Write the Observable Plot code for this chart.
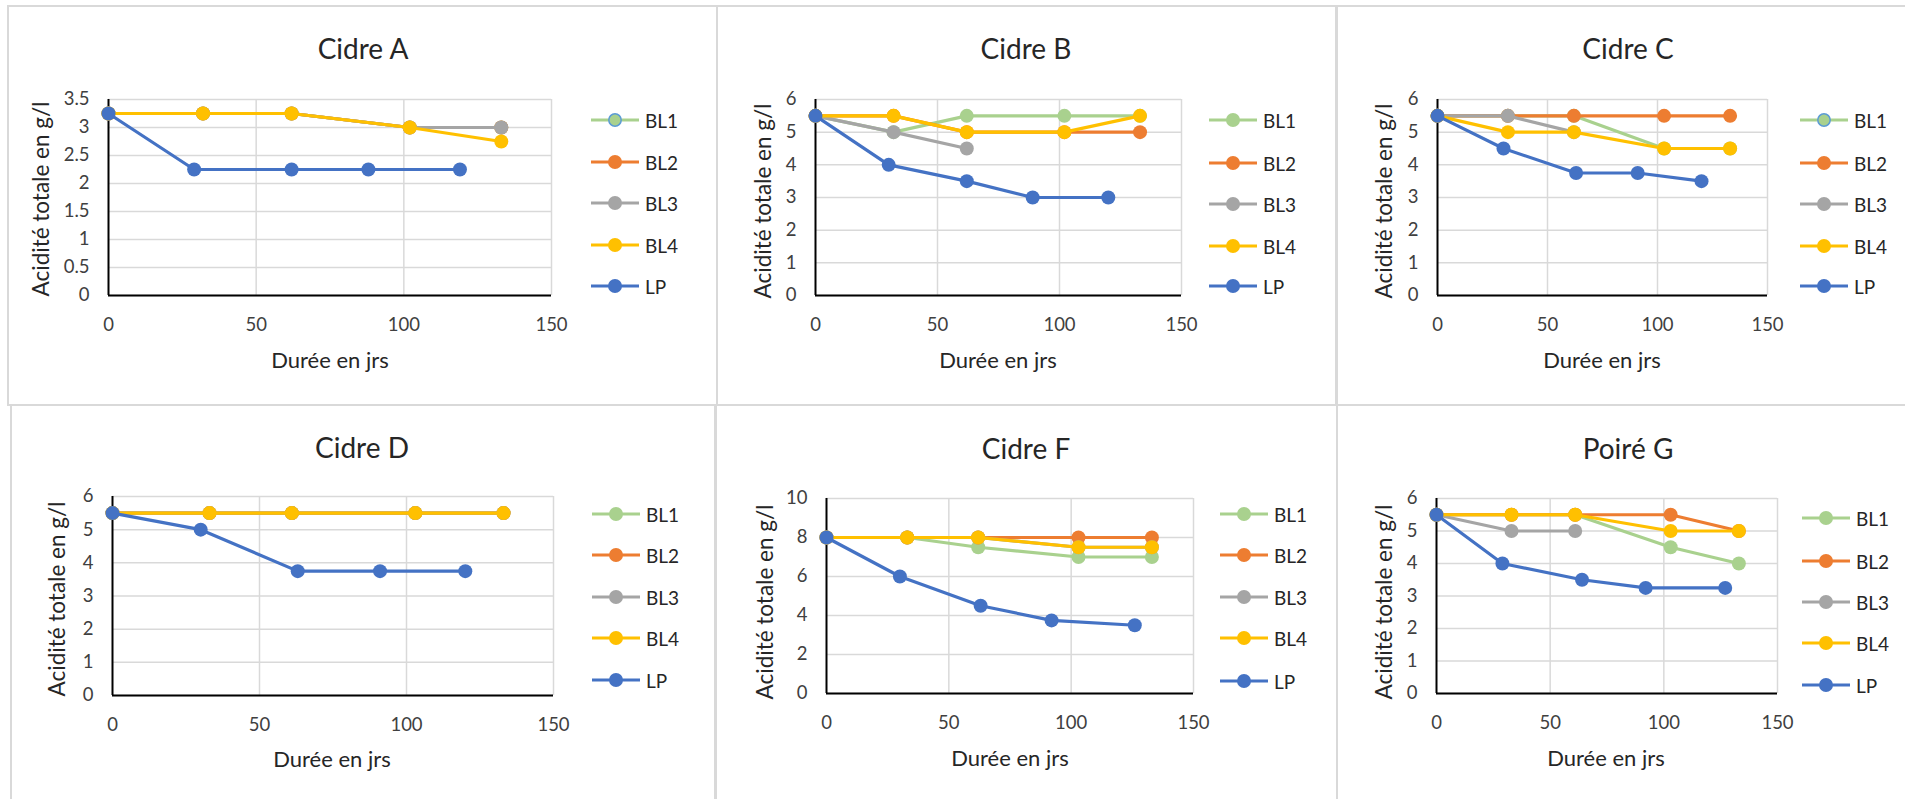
<!DOCTYPE html>
<html>
<head>
<meta charset="utf-8">
<script src="https://cdn.jsdelivr.net/npm/d3@7"></script>
<script src="https://cdn.jsdelivr.net/npm/@observablehq/plot@0.6"></script>
<style>
  html, body { margin: 0; padding: 0; background: #fff; }
  #root { position: relative; width: 1905px; height: 799px; overflow: hidden; background: #fff; font-family: Lato, "Open Sans", sans-serif; }
  .frame { position: absolute; border: 2px solid #d9d9d9; box-sizing: border-box; }
  .txt { position: absolute; white-space: nowrap; line-height: 1; color: #262626; }
  .title { font-size: 28px; transform: translate(-50%, -50%); }
  .ylab { font-size: 22.5px; transform: translate(-50%, -50%) rotate(-90deg); }
  .xlab { font-size: 22px; transform: translate(-50%, -50%); }
  .plotbox { position: absolute; }
  .legtxt { font-size: 19px; transform: translate(0, -50%); color: #262626; }
</style>
</head>
<body>
<div id="root"></div>
<script>
// ---------- shared labels ----------
const seriesNames = ["BL1", "BL2", "BL3", "BL4", "LP"];
const seriesColors = ["#A9D18E", "#ED7D31", "#A5A5A5", "#FFC000", "#4472C4"];
const panelTitles = ["Cidre A", "Cidre B", "Cidre C", "Cidre D", "Cidre F", "Poiré G"];
const xLabel = "Durée en jrs";
const yLabel = "Acidité totale en g/l";
const xTicks = [0, 50, 100, 150];
const yTicksA = [0, 0.5, 1, 1.5, 2, 2.5, 3, 3.5];
const yTicks6 = [0, 1, 2, 3, 4, 5, 6];
const yTicksF = [0, 2, 4, 6, 8, 10];

// ---------- Cidre A ----------
const daysA_BL = [0, 32, 62, 102, 133];
const daysA_LP = [0, 29, 62, 88, 119];
const acidA_BL1 = [3.25, 3.25, 3.25, 3, 3];
const acidA_BL2 = [3.25, 3.25, 3.25, 3, 3];
const acidA_BL3 = [3.25, 3.25, 3.25, 3, 3];
const acidA_BL4 = [3.25, 3.25, 3.25, 3, 2.75];
const acidA_LP  = [3.25, 2.25, 2.25, 2.25, 2.25];

// ---------- Cidre B ----------
const daysB_BL  = [0, 32, 62, 102, 133];
const daysB_BL3 = [0, 32, 62];
const daysB_LP  = [0, 30, 62, 89, 120];
const acidB_BL1 = [5.5, 5, 5.5, 5.5, 5.5];
const acidB_BL2 = [5.5, 5.5, 5, 5, 5];
const acidB_BL3 = [5.5, 5, 4.5];
const acidB_BL4 = [5.5, 5.5, 5, 5, 5.5];
const acidB_LP  = [5.5, 4, 3.5, 3, 3];

// ---------- Cidre C ----------
const daysC_BL  = [0, 32, 62, 103, 133];
const daysC_BL3 = [0, 32, 62];
const daysC_LP  = [0, 30, 63, 91, 120];
const acidC_BL1 = [5.5, 5.5, 5.5, 4.5, 4.5];
const acidC_BL2 = [5.5, 5.5, 5.5, 5.5, 5.5];
const acidC_BL3 = [5.5, 5.5, 5];
const acidC_BL4 = [5.5, 5, 5, 4.5, 4.5];
const acidC_LP  = [5.5, 4.5, 3.75, 3.75, 3.5];

// ---------- Cidre D ----------
const daysD_BL  = [0, 33, 61, 103, 133];
const daysD_LP  = [0, 30, 63, 91, 120];
const acidD_BL1 = [5.5, 5.5, 5.5, 5.5, 5.5];
const acidD_BL2 = [5.5, 5.5, 5.5, 5.5, 5.5];
const acidD_BL3 = [5.5, 5.5, 5.5, 5.5, 5.5];
const acidD_BL4 = [5.5, 5.5, 5.5, 5.5, 5.5];
const acidD_LP  = [5.5, 5, 3.75, 3.75, 3.75];

// ---------- Cidre F ----------
const daysF_BL  = [0, 33, 62, 103, 133];
const daysF_LP  = [0, 30, 63, 92, 126];
const acidF_BL1 = [8, 8, 7.5, 7, 7];
const acidF_BL2 = [8, 8, 8, 8, 8];
const acidF_BL3 = [8, 8, 8, 7.5, 7.5];
const acidF_BL4 = [8, 8, 8, 7.5, 7.5];
const acidF_LP  = [8, 6, 4.5, 3.75, 3.5];

// ---------- Poiré G ----------
const daysG_BL  = [0, 33, 61, 103, 133];
const daysG_BL3 = [0, 33, 61];
const daysG_LP  = [0, 29, 64, 92, 127];
const acidG_BL1 = [5.5, 5.5, 5.5, 4.5, 4];
const acidG_BL2 = [5.5, 5.5, 5.5, 5.5, 5];
const acidG_BL3 = [5.5, 5, 5];
const acidG_BL4 = [5.5, 5.5, 5.5, 5, 5];
const acidG_LP  = [5.5, 4, 3.5, 3.25, 3.25];

// ---------- assemble series per panel ----------
const panelSeries = [
  [[daysA_BL, acidA_BL1], [daysA_BL, acidA_BL2], [daysA_BL, acidA_BL3], [daysA_BL, acidA_BL4], [daysA_LP, acidA_LP]],
  [[daysB_BL, acidB_BL1], [daysB_BL, acidB_BL2], [daysB_BL3, acidB_BL3], [daysB_BL, acidB_BL4], [daysB_LP, acidB_LP]],
  [[daysC_BL, acidC_BL1], [daysC_BL, acidC_BL2], [daysC_BL3, acidC_BL3], [daysC_BL, acidC_BL4], [daysC_LP, acidC_LP]],
  [[daysD_BL, acidD_BL1], [daysD_BL, acidD_BL2], [daysD_BL, acidD_BL3], [daysD_BL, acidD_BL4], [daysD_LP, acidD_LP]],
  [[daysF_BL, acidF_BL1], [daysF_BL, acidF_BL2], [daysF_BL, acidF_BL3], [daysF_BL, acidF_BL4], [daysF_LP, acidF_LP]],
  [[daysG_BL, acidG_BL1], [daysG_BL, acidG_BL2], [daysG_BL3, acidG_BL3], [daysG_BL, acidG_BL4], [daysG_LP, acidG_LP]]
];
const panelYMax = [3.5, 6, 6, 6, 10, 6];
const panelYTicks = [yTicksA, yTicks6, yTicks6, yTicks6, yTicksF, yTicks6];

// ---------- layout (pixels) ----------
const layouts = [
  {frame: [7, 5, 711, 401],    x0: 108,  x1: 551,  yT: 99,  yB: 295, title: [363, 48],  ylab: [41, 199],   xlab: [330, 360],  legX: 615,  legY: [120, 162, 203, 245, 286], bl1Ring: true},
  {frame: [716, 5, 622, 401],  x0: 815,  x1: 1181, yT: 99,  yB: 295, title: [1026, 48], ylab: [763, 201],  xlab: [998, 360],  legX: 1233, legY: [120, 163, 204, 246, 286]},
  {frame: [1335, 5, 620, 401], x0: 1437, x1: 1767, yT: 99,  yB: 295, title: [1628, 48], ylab: [1384, 201], xlab: [1602, 360], legX: 1824, legY: [120, 163, 204, 246, 286], bl1Ring: true},
  {frame: [10, 404, 706, 420], x0: 112,  x1: 553,  yT: 496, yB: 695, title: [362, 447], ylab: [57, 599],   xlab: [332, 759],  legX: 616,  legY: [514, 555, 597, 638, 680]},
  {frame: [715, 404, 623, 420],x0: 826,  x1: 1193, yT: 498, yB: 693, title: [1026, 448],ylab: [765, 602],  xlab: [1010, 758], legX: 1244, legY: [514, 555, 597, 638, 681]},
  {frame: [1336, 404, 620, 420],x0: 1436, x1: 1777, yT: 498, yB: 693, title: [1628, 448],ylab: [1384, 602], xlab: [1606, 758], legX: 1826, legY: [518, 561, 602, 643, 685]}
];

const root = document.getElementById("root");

function addText(cls, text, x, y) {
  const d = document.createElement("div");
  d.className = "txt " + cls;
  d.textContent = text;
  d.style.left = x + "px";
  d.style.top = y + "px";
  root.appendChild(d);
  return d;
}

layouts.forEach((L) => {
  const f = document.createElement("div");
  f.className = "frame";
  f.style.left = L.frame[0] + "px";
  f.style.top = L.frame[1] + "px";
  f.style.width = L.frame[2] + "px";
  f.style.height = L.frame[3] + "px";
  root.appendChild(f);
});

layouts.forEach((L, p) => {
  const ml = 90, mr = 14, mt = 14, mb = 50;
  const w = ml + (L.x1 - L.x0) + mr;
  const h = mt + (L.yB - L.yT) + mb;
  const yt = panelYTicks[p];
  const marks = [
    Plot.gridY(yt, {stroke: "#d9d9d9", strokeOpacity: 1, strokeWidth: 1.5}),
    Plot.gridX([50, 100, 150], {stroke: "#d9d9d9", strokeOpacity: 1, strokeWidth: 1.5}),
    Plot.axisY(yt, {tickSize: 0, tickPadding: 19, label: null, fontSize: 18.5, tickFormat: d => String(d)}),
    Plot.axisX(xTicks, {tickSize: 0, tickPadding: 22, label: null, fontSize: 18.5, tickFormat: d => String(d)}),
    Plot.ruleX([0], {stroke: "#000", strokeWidth: 2}),
    Plot.ruleY([0], {stroke: "#000", strokeWidth: 2})
  ];
  panelSeries[p].forEach(([days, vals], s) => {
    const data = days.map((d, i) => ({day: d, acid: vals[i]}));
    marks.push(Plot.line(data, {x: "day", y: "acid", stroke: seriesColors[s], strokeWidth: 3.2, strokeLinejoin: "round", strokeLinecap: "round"}));
    marks.push(Plot.dot(data, {x: "day", y: "acid", fill: seriesColors[s], r: 7}));
  });
  const chart = Plot.plot({
    width: w, height: h,
    marginLeft: ml, marginRight: mr, marginTop: mt, marginBottom: mb,
    x: {domain: [0, 150]},
    y: {domain: [0, panelYMax[p]]},
    style: {background: "transparent", fontFamily: "Lato, 'Open Sans', sans-serif", fontSize: "18.5px", color: "#404040", overflow: "visible"},
    marks
  });
  const box = document.createElement("div");
  box.className = "plotbox";
  box.style.left = (L.x0 - ml) + "px";
  box.style.top = (L.yT - mt) + "px";
  box.appendChild(chart);
  root.appendChild(box);

  addText("title", panelTitles[p], L.title[0], L.title[1]);
  addText("ylab", yLabel, L.ylab[0], L.ylab[1]);
  addText("xlab", xLabel, L.xlab[0], L.xlab[1]);

  seriesNames.forEach((name, s) => {
    const y = L.legY[s];
    const svg = d3.select(root).append("svg")
      .style("position", "absolute")
      .style("left", (L.legX - 26) + "px")
      .style("top", (y - 10) + "px")
      .attr("width", 52).attr("height", 20);
    svg.append("line").attr("x1", 2).attr("x2", 50).attr("y1", 10).attr("y2", 10)
      .attr("stroke", seriesColors[s]).attr("stroke-width", 3.2);
    const c = svg.append("circle").attr("cx", 26).attr("cy", 10).attr("r", 7).attr("fill", seriesColors[s]);
    if (s === 0 && L.bl1Ring) c.attr("stroke", "#5B9BD5").attr("stroke-width", 1.5).attr("r", 6.2);
    addText("legtxt", name, L.legX + 30, y);
  });
});
</script>
</body>
</html>
